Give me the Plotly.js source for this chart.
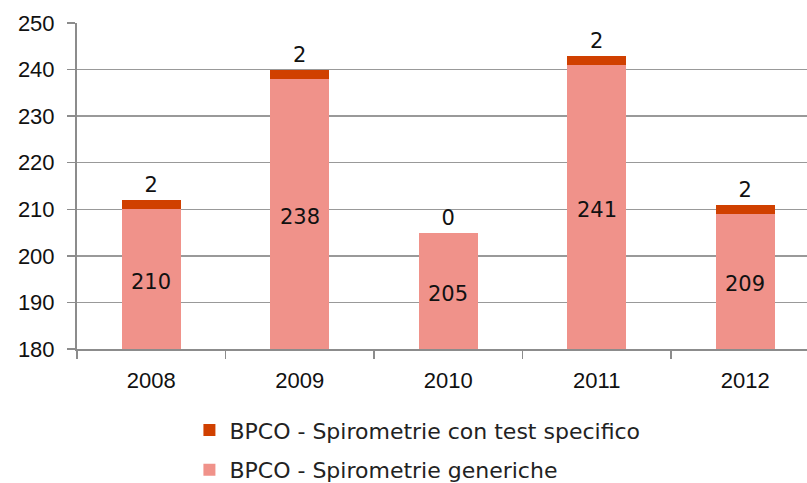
<!DOCTYPE html>
<html><head><meta charset="utf-8">
<script src="https://cdn.plot.ly/plotly-3.0.1.min.js"></script>
<style>html,body{margin:0;padding:0;background:#fff}</style>
</head><body>
<div id="chart" style="width:807px;height:483px"></div>
<script>
const years = ["2008", "2009", "2010", "2011", "2012"];
const generiche = [210, 238, 205, 241, 209];
const specifico = [2, 2, 0, 2, 2];
const nameGen = "BPCO - Spirometrie generiche";
const nameSpec = "BPCO - Spirometrie con test specifico";
const yTicks = [180, 190, 200, 210, 220, 230, 240, 250];
const yMin = 180, yMax = 250;

const labelFont = {family: "DejaVu Sans", size: 21, color: "#111"};

const traces = [
  {type: "bar", x: years, y: generiche, name: nameGen, legendgroup: "g1", legendrank: 2,
   marker: {color: "#F0928A"}, hoverinfo: "none"},
  {type: "bar", x: years, y: specifico, name: nameSpec, legendgroup: "g2", legendrank: 1,
   marker: {color: "#D04000"},
   text: specifico.map(String), textposition: "outside", cliponaxis: false,
   textfont: labelFont, hoverinfo: "none"}
];

// labels of the lower series, centred on the visible part of each bar
const annotations = years.map((yr, i) => ({
  x: i, y: (yMin + generiche[i]) / 2, xref: "x", yref: "y", yshift: -3,
  text: String(generiche[i]), showarrow: false, font: labelFont
}));

const layout = {
  width: 807, height: 483,
  margin: {l: 77, r: 0, t: 23, b: 134, autoexpand: false},
  barmode: "stack", bargap: 0.6,
  showlegend: true,
  paper_bgcolor: "#fff", plot_bgcolor: "#fff",
  annotations: annotations,
  xaxis: {
    type: "category", range: [-0.5, 4.416],
    showline: true, linecolor: "#8c8c8c", linewidth: 2,
    ticks: "outside", tickson: "boundaries", ticklen: 8, tickcolor: "#8c8c8c", tickwidth: 1.5,
    ticklabelstandoff: 11,
    tickfont: {family: "Liberation Sans", size: 22, color: "#111"},
    showgrid: false, fixedrange: true
  },
  yaxis: {
    range: [yMin, yMax], tickvals: yTicks, ticktext: yTicks.map(String),
    showline: true, linecolor: "#8c8c8c", linewidth: 2,
    ticks: "outside", ticklen: 8, tickcolor: "#8c8c8c", tickwidth: 1.5,
    showgrid: true, gridcolor: "#999999", gridwidth: 1.5,
    zeroline: false, ticklabelstandoff: 8,
    tickfont: {family: "Liberation Sans", size: 22, color: "#111"},
    fixedrange: true
  },
  legend: {
    orientation: "v", traceorder: "grouped",
    x: 0.154, xanchor: "left", y: -0.185, yanchor: "top",
    font: {family: "DejaVu Sans", size: 22, color: "#222"},
    itemwidth: 30, tracegroupgap: 8
  }
};

Plotly.newPlot("chart", traces, layout, {staticPlot: true});
</script>
</body></html>
